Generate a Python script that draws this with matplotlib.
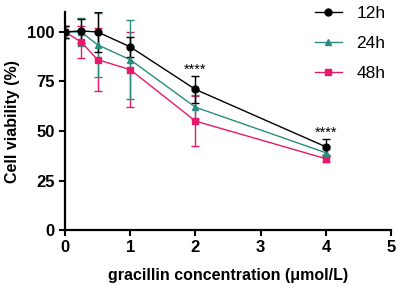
import matplotlib
matplotlib.use("Agg")
import matplotlib.pyplot as plt
from matplotlib.lines import Line2D

plt.rcParams['font.family'] = ['Liberation Sans', 'DejaVu Sans']

conc = [0, 0.25, 0.5, 1, 2, 4]
v12 = [100, 100.5, 100, 92.5, 71, 42]
e12 = [3, 6, 10, 5, 7, 4]
v24 = [100, 100, 93.5, 86, 62, 39]
e24 = [3, 7, 16, 20, 6, 2]
v48 = [100, 95, 86, 81, 55, 36]
e48 = [3, 8, 16, 19, 12.5, 1.5]
labels = ['12h', '24h', '48h']
colors = ['black', '#2a8c80', '#e8196a']
markers = ['o', '^', 's']
sig_x = [2, 4]
sig_y = [81, 49]

fig = plt.figure(figsize=(3.98, 2.89), dpi=100)
ax = fig.add_axes([0.163, 0.204, 0.82, 0.754])

series = list(zip([v12, v24, v48], [e12, e24, e48], labels, colors, markers))
handles = []
for v, e, lab, c, m in reversed(series):
    ms = 5 if m != '^' else 4.5
    ax.errorbar(conc, v, yerr=e, color=c, marker=m, ms=ms,
                lw=1, elinewidth=1, capsize=3, capthick=1)
for v, e, lab, c, m in series:
    handles.append(Line2D([], [], color=c, marker=m, lw=1,
                          ms=5 if m != '^' else 4.5, label=lab))

for x, y in zip(sig_x, sig_y):
    ax.text(x, y, '****', ha='center', va='center', fontsize=10.5, color='black')

ax.set_xlim(0, 5)
ax.set_ylim(0, 110)
ax.set_xticks([0, 1, 2, 3, 4, 5])
ax.set_yticks([0, 25, 50, 75, 100])
ax.spines['top'].set_visible(False)
ax.spines['right'].set_visible(False)
for s in ['left', 'bottom']:
    ax.spines[s].set_linewidth(1.6)
ax.tick_params(width=1.5, length=4, labelsize=12)
for t in ax.get_xticklabels() + ax.get_yticklabels():
    t.set_fontweight('bold')
ax.set_xlabel('gracillin concentration (μmol/L)', fontweight='bold', fontsize=11.5, labelpad=9)
ax.set_ylabel('Cell viability (%)', fontweight='bold', fontsize=11.5, labelpad=5)

ax.legend(handles=handles, loc='upper right', bbox_to_anchor=(1.03, 1.1),
          frameon=False, fontsize=12.5, handlelength=1.6, labelspacing=0.85)

fig.savefig('out.png', dpi=100)
